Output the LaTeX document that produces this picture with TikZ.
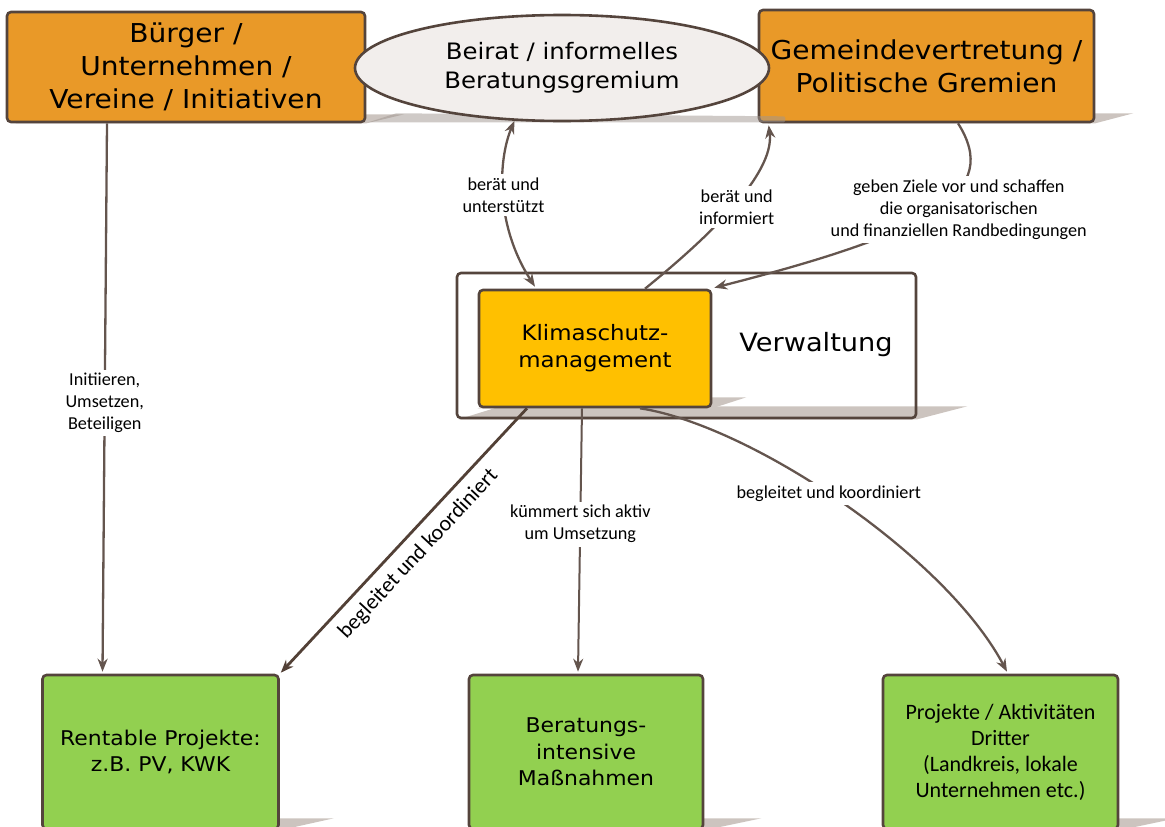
\documentclass[tikz,border=0pt]{standalone}
\usepackage{fontspec}
\setmainfont{DejaVu Sans}
\newfontfamily\boxfont[FakeStretch=1.08]{DejaVu Sans}
\newfontfamily\labfont{Carlito}
\usetikzlibrary{shapes.geometric,arrows.meta,calc,backgrounds}
\definecolor{orangebox}{RGB}{233,153,40}
\definecolor{klimafill}{RGB}{255,192,0}
\definecolor{greenbox}{RGB}{146,208,80}
\definecolor{ellfill}{RGB}{242,238,236}
\definecolor{edge}{RGB}{84,68,60}
\definecolor{arrowc}{RGB}{100,85,78}
\definecolor{darkarrow}{RGB}{82,64,54}
\definecolor{shadowc}{RGB}{204,196,191}
\definecolor{eshadow}{RGB}{160,150,144}
\begin{document}
\begin{tikzpicture}[x=1pt,y=-1pt,
  box/.style={draw=edge, line width=2.6pt, rounded corners=4pt, align=center, inner sep=0pt},
  topbox/.style={box, fill=orangebox, font=\boxfont\fontsize{26}{33}\selectfont},
  greenb/.style={box, fill=greenbox, font=\boxfont\fontsize{20.3}{26.5}\selectfont, minimum width=236pt, minimum height=154pt},
  conn/.style={draw=arrowc, line width=2.3pt, -{Stealth[length=13pt,width=10pt]}},
  lab/.style={font=\labfont\fontsize{18.2}{22}\selectfont, align=center, fill=white, inner sep=3.5pt},
  shade/.style={fill=shadowc}
]
\path[use as bounding box] (0,0) rectangle (1165,827);
\clip (0,0) rectangle (1165,827);

% top boxes
\node[topbox, minimum width=358pt, minimum height=110pt] (buerger) at (186,67) {Bürger /\\Unternehmen /\\Vereine / Initiativen};
\node[topbox, minimum width=335pt, minimum height=112pt] (gemeinde) at (926.5,66) {Gemeindevertretung /\\Politische Gremien};

% ellipse shadow (semi-transparent, over the boxes)
\fill[eshadow, opacity=0.5] ($(buerger.south east)+(2,-1)$) -- ($(gemeinde.south west)+(26,-1)$)
   to[out=0,in=0] ($(gemeinde.south west)+(26,-7)$) -- ($(buerger.south east)+(30,-10)$) -- cycle;

\node[ellipse, draw=edge, line width=2.6pt, fill=ellfill, minimum width=414pt, minimum height=106pt,
      inner sep=0pt, align=center, font=\boxfont\fontsize{22.6}{29}\selectfont] (beirat) at (562,68)
      {Beirat / informelles\\Beratungsgremium};

% Verwaltung
\node[box, minimum width=459pt, minimum height=145pt] (verw) at (686.5,345.5) {};
\node[font=\boxfont\fontsize{25.2}{30}\selectfont] (verwtext) at (816,345) {Verwaltung};
\node[box, fill=klimafill, minimum width=232pt, minimum height=117pt, font=\boxfont\fontsize{21.2}{27}\selectfont]
     (klima) at (595,348.5) {Klimaschutz-\\management};

% green boxes
\node[greenb] (rent) at (160.5,752) {Rentable Projekte:\\z.B. PV, KWK};
\node[greenb, minimum width=234pt] (berat) at (586,752) {Beratungs-\\intensive\\Maßnahmen};
\node[greenb, minimum width=235pt, font=\labfont\fontsize{22}{26}\selectfont] (proj) at (1000.5,752)
     {Projekte / Aktivitäten\\Dritter\\(Landkreis, lokale\\Unternehmen etc.)};

% shadows
\begin{scope}[on background layer]
\fill[shade] ($(buerger.south west)+(10,0)$) -- (buerger.south east) -- ($(buerger.south east)+(38,-9)$) -- ($(buerger.south west)+(48,-9)$) -- cycle;
\fill[shade] ($(gemeinde.south west)+(10,0)$) -- (gemeinde.south east) -- ($(gemeinde.south east)+(38,-10)$) -- ($(gemeinde.south west)+(48,-10)$) -- cycle;
\fill[shade] ($(verw.south west)+(3,0)$) -- (verw.south east) -- ($(verw.south east)+(50,-13)$) -- ($(verw.south west)+(45,-13)$) -- cycle;
\fill[shade] (klima.south west) -- (klima.south east) -- ($(klima.south east)+(34,-11)$) -- ($(klima.south west)+(34,-11)$) -- cycle;
\fill[shade] ($(rent.south west)+(10,0)$) -- (rent.south east) -- ($(rent.south east)+(54,-12)$) -- ($(rent.south west)+(54,-12)$) -- cycle;
\fill[shade] ($(berat.south west)+(10,0)$) -- (berat.south east) -- ($(berat.south east)+(57,-12)$) -- ($(berat.south west)+(57,-12)$) -- cycle;
\fill[shade] ($(proj.south west)+(10,0)$) -- (proj.south east) -- ($(proj.south east)+(57,-12)$) -- ($(proj.south west)+(57,-12)$) -- cycle;
\end{scope}

% connectors
\draw[conn] ($(buerger.south)+(-79,0)$) -- node[lab,pos=0.51]{Initiieren,\\Umsetzen,\\Beteiligen} ($(rent.north)+(-58,-2)$);

\draw[conn, draw=darkarrow, line width=2.8pt] ($(klima.south)+(-68,0)$) --
   node[sloped, below=9pt, font=\labfont\fontsize{22}{26}\selectfont, inner sep=0pt, pos=0.5]{begleitet und koordiniert}
   ($(rent.north east)+(1,-1)$);

\draw[conn, line width=2pt] ($(klima.south)+(-13,0)$) -- node[lab,pos=0.44]{kümmert sich aktiv\\um Umsetzung} ($(berat.north)+(-8,-2)$);

\draw[conn] ($(klima.south)+(45,0)$) .. controls (750,425) and (945,555) ..
   node[lab,pos=0.47]{begleitet und koordiniert} ($(proj.north)+(6.5,-2)$);

\draw[conn, {Stealth[length=13pt,width=10pt]}-{Stealth[length=13pt,width=10pt]}] (beirat.228)
   .. controls (498,160) and (495,225) .. node[lab,pos=0.5]{berät und\\unterstützt} ($(klima.north)+(-60,-2)$);

\draw[conn] ($(klima.north)+(50,0)$) .. controls (705,240) and (775,175) ..
   node[lab,pos=0.5,xshift=5pt]{berät und\\informiert} ($(gemeinde.south west)+(11,2)$);

\draw[conn] ($(gemeinde.south)+(31.5,0)$) .. controls (1001,191) and (937,231) ..
   node[lab,pos=0.5,xshift=23pt]{geben Ziele vor und schaffen\\die organisatorischen\\und finanziellen Randbedingungen}
   ($(klima.north east)+(2,-1)$);
\end{tikzpicture}
\end{document}
